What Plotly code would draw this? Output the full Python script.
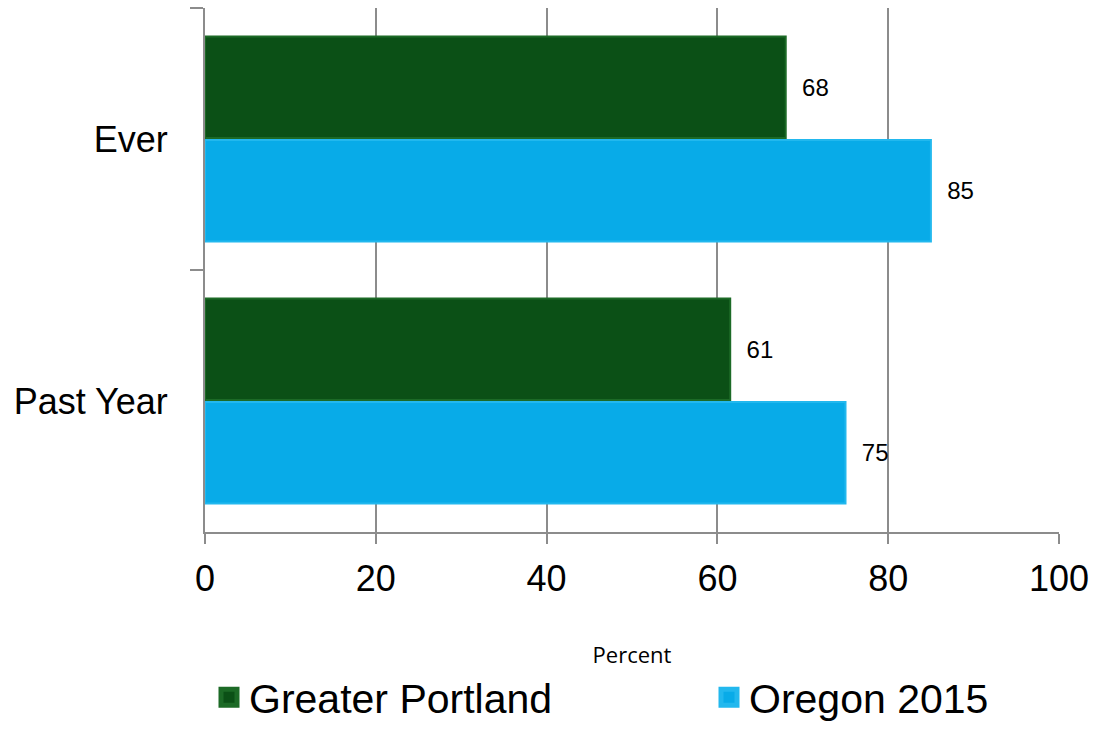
import plotly.graph_objects as go

categories = ["Ever", "Past Year"]
series_names = ["Greater Portland", "Oregon 2015"]
portland_values = [68, 61.5]
oregon_values = [85, 75]
portland_labels = ["68", "61"]
oregon_labels = ["85", "75"]
x_ticks = [0, 20, 40, 60, 80, 100]

green, green_edge = "#0b5016", "#1c6a26"
blue, blue_edge = "#08abe8", "#22b8ee"
label_font = dict(family="Liberation Sans, Arial", size=24, color="#000000")

fig = go.Figure()
fig.add_trace(go.Bar(
    y=categories, x=portland_values, orientation="h", name=series_names[0],
    marker=dict(color=green, line=dict(color=green_edge, width=2)),
    text=["  " + t for t in portland_labels], textposition="outside",
    textfont=label_font, cliponaxis=False, showlegend=False,
))
fig.add_trace(go.Bar(
    y=categories, x=oregon_values, orientation="h", name=series_names[1],
    marker=dict(color=blue, line=dict(color=blue_edge, width=2)),
    text=["  " + t for t in oregon_labels], textposition="outside",
    textfont=label_font, cliponaxis=False, showlegend=False,
))
# legend entries (square swatches)
fig.add_trace(go.Scatter(
    x=[None], y=[None], mode="markers", name=series_names[0], legend="legend",
    marker=dict(symbol="square", size=16, color=green, line=dict(color=green_edge, width=5)),
))
fig.add_trace(go.Scatter(
    x=[None], y=[None], mode="markers", name=series_names[1], legend="legend2",
    marker=dict(symbol="square", size=16, color=blue, line=dict(color=blue_edge, width=5)),
))

legend_font = dict(size=41, family="Liberation Sans, Arial", color="#000000")
fig.update_layout(
    width=1097, height=731,
    margin=dict(l=205, r=38, t=8, b=199, autoexpand=False),
    paper_bgcolor="white", plot_bgcolor="white",
    barmode="group", bargap=0.21, bargroupgap=0.02,
    font=dict(family="Liberation Sans, Arial", color="#000000"),
    xaxis=dict(
        range=[0, 100], tickvals=x_ticks, ticktext=[str(v) for v in x_ticks],
        showgrid=True, gridcolor="#8c8c8c", gridwidth=2,
        showline=True, linecolor="#8c8c8c", linewidth=2,
        ticks="outside", ticklen=10, tickwidth=2, tickcolor="#8c8c8c",
        tickfont=dict(size=36, family="Liberation Sans, Arial"),
        ticklabelstandoff=4,
        zeroline=False,
        title=dict(text="Percent", font=dict(size=22, family="Open Sans"), standoff=49),
    ),
    yaxis=dict(
        autorange="reversed", type="category",
        showline=True, linecolor="#8c8c8c", linewidth=2,
        ticks="outside", ticklen=13, tickwidth=2, tickcolor="#8c8c8c",
        tickson="boundaries", showgrid=False,
        tickfont=dict(size=36, family="Liberation Sans, Arial"),
        ticklabelstandoff=28,
    ),
    legend=dict(
        xref="container", yref="container", x=209 / 1097, xanchor="left",
        y=0, yanchor="bottom", font=legend_font, itemwidth=30,
        bgcolor="rgba(0,0,0,0)",
    ),
    legend2=dict(
        xref="container", yref="container", x=709 / 1097, xanchor="left",
        y=0, yanchor="bottom", font=legend_font, itemwidth=30,
        bgcolor="rgba(0,0,0,0)",
    ),
    showlegend=True,
)

fig.write_html("out.html")
